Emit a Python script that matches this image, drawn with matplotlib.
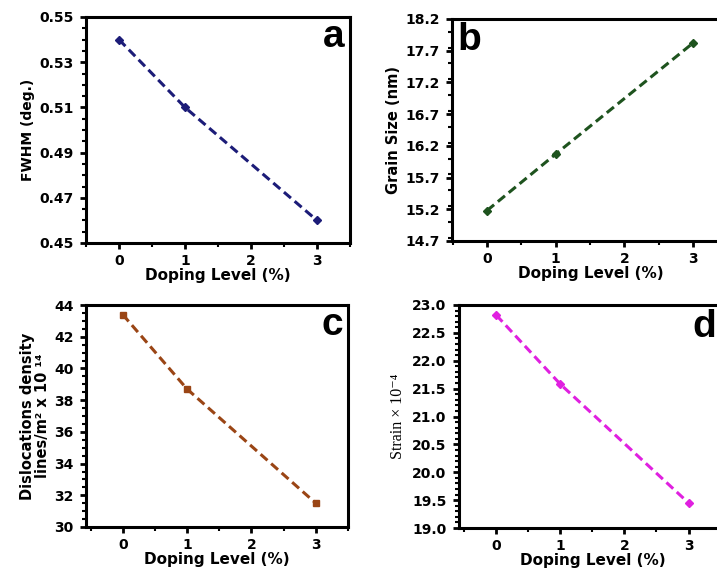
import matplotlib
matplotlib.use("Agg")
import matplotlib.pyplot as plt
from matplotlib.ticker import MultipleLocator

doping = [0, 1, 3]
fwhm = [0.540, 0.510, 0.460]
grain = [15.18, 16.07, 17.82]
disloc = [43.4, 38.7, 31.5]
strain = [22.82, 21.58, 19.45]

xticks = [0, 1, 2, 3]
fwhm_ticks = [0.45, 0.47, 0.49, 0.51, 0.53, 0.55]
grain_ticks = [14.7, 15.2, 15.7, 16.2, 16.7, 17.2, 17.7, 18.2]
disloc_ticks = [30, 32, 34, 36, 38, 40, 42, 44]
strain_ticks = [19.0, 19.5, 20.0, 20.5, 21.0, 21.5, 22.0, 22.5, 23.0]

plt.rcParams['font.family'] = ['DejaVu Sans']
plt.rcParams['font.weight'] = 'bold'

fig = plt.figure(figsize=(7.17, 5.73), dpi=100)

W, H = 717.0, 573.0
def ax_at(l, r, t, b):
    return fig.add_axes([l / W, 1 - b / H, (r - l) / W, (b - t) / H])

panels = [
    dict(box=(86, 350, 17, 243), xlim=(-0.5, 3.5), y=fwhm, color='#1C1C78', marker='D', ms=4,
         yt=fwhm_ticks, minor=0.005, fmt='%.2f', ylfs=10,
         ylabel='FWHM (deg.)', label='a', lpos=(0.98, 0.91), lha='right'),
    dict(box=(452, 730, 19, 241), xlim=(-0.51, 3.54), y=grain, color='#1E531E', marker='D', ms=4,
         yt=grain_ticks, minor=0.25, fmt='%.1f', ylfs=10.5,
         ylabel='Grain Size (nm)', label='b', lpos=(0.018, 0.905), lha='left'),
    dict(box=(86, 348, 305, 527), xlim=(-0.57, 3.5), y=disloc, color='#9A4515', marker='s', ms=5,
         yt=disloc_ticks, minor=0.5, fmt='%d', ylfs=10.5,
         ylabel='Dislocations density\nlines/m² x 10 ¹⁴',
         label='c', lpos=(0.98, 0.91), lha='right'),
    dict(box=(459, 727, 305, 528), xlim=(-0.58, 3.6), y=strain, color='#E020E0', marker='D', ms=4,
         yt=strain_ticks, minor=0.1, fmt='%.1f', ylfs=11,
         ylabel='Strain × 10⁻⁴', label='d', lpos=(0.872, 0.90), lha='left'),
]

for p in panels:
    ax = ax_at(*p['box'])
    ax.plot(doping, p['y'], linestyle=(0, (3, 1.6)), linewidth=2.2, color=p['color'],
            marker=p['marker'], markersize=p['ms'], markeredgecolor=p['color'],
            markerfacecolor=p['color'])
    ax.set_xlim(*p['xlim'])
    ax.set_ylim(p['yt'][0], p['yt'][-1])
    ax.set_xticks(xticks)
    ax.xaxis.set_minor_locator(MultipleLocator(0.5))
    ax.set_yticks(p['yt'])
    ax.set_yticklabels([p['fmt'] % v for v in p['yt']])
    ax.yaxis.set_minor_locator(MultipleLocator(p['minor']))
    ax.tick_params(which='major', direction='out', length=4, width=2,
                   labelsize=10, pad=5)
    ax.tick_params(axis='x', which='major', pad=4)
    ax.tick_params(which='minor', direction='out', length=3, width=1.5)
    ax.tick_params(axis='y', which='both', right=False)
    ax.tick_params(axis='x', which='both', top=False)
    for lab in ax.get_xticklabels() + ax.get_yticklabels():
        lab.set_fontweight('bold')
    for s in ax.spines.values():
        s.set_linewidth(2.2)
    ax.set_xlabel('Doping Level (%)', fontsize=11, fontweight='bold', labelpad=0)
    if p['label'] == 'd':
        ax.set_ylabel(p['ylabel'], fontsize=11.5, fontweight='normal',
                      family=['Liberation Serif', 'DejaVu Serif'], labelpad=4)
    else:
        ax.set_ylabel(p['ylabel'], fontsize=p['ylfs'], fontweight='bold', labelpad=3,
                      linespacing=1.0)
    ax.text(p['lpos'][0], p['lpos'][1], p['label'], transform=ax.transAxes,
            fontsize=28, fontweight='bold', ha=p['lha'], va='center',
            family=['Liberation Sans', 'DejaVu Sans'])

fig.savefig('out.png', dpi=100)
